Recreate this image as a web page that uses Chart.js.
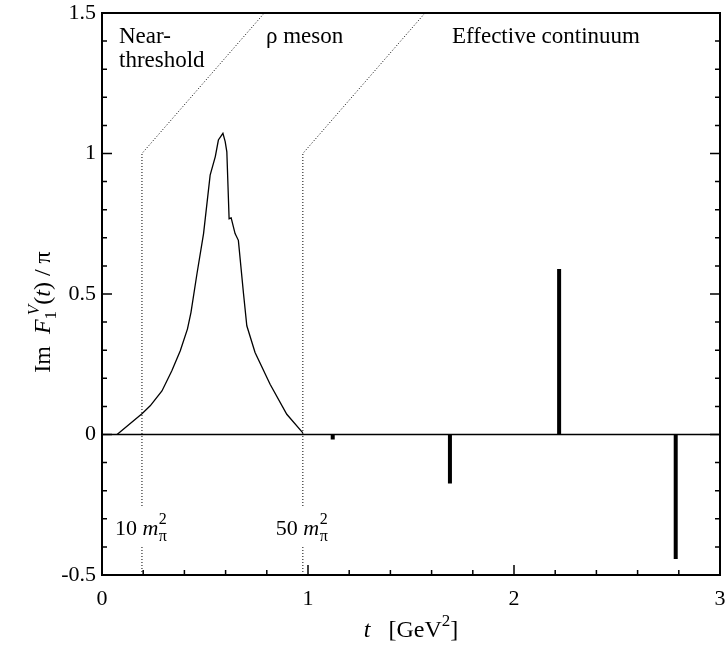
<!DOCTYPE html>
<html>
<head>
<meta charset="utf-8">
<script src="https://cdn.jsdelivr.net/npm/chart.js@4/dist/chart.umd.min.js"></script>
<style>
  body { margin: 0; background: #fff; }
</style>
</head>
<body>
<canvas id="myChart" width="728" height="650"></canvas>
<script>
// spectral function, t in GeV^2
var curveT = [0.073, 0.194, 0.234, 0.291, 0.339, 0.380, 0.415, 0.432, 0.461, 0.493, 0.525, 0.550, 0.565, 0.587, 0.598, 0.606, 0.617, 0.627, 0.646, 0.662, 0.687, 0.703, 0.743, 0.816, 0.897, 0.975];
var curveV = [0, 0.074, 0.102, 0.155, 0.227, 0.298, 0.376, 0.435, 0.572, 0.715, 0.923, 0.989, 1.048, 1.072, 1.042, 1.006, 0.768, 0.771, 0.715, 0.691, 0.501, 0.387, 0.292, 0.179, 0.072, 0.006];

// effective continuum poles
var poleT = [1.12, 1.689, 2.219, 2.785];
var poleV = [-0.018, -0.174, 0.589, -0.443];

// region boundaries: 10 m_pi^2 and 50 m_pi^2, dotted lines bend at y=1 and reach top
var boundT = [0.194, 0.975];
var boundTopT = [0.788, 1.568];
var boundLabels = ['10', '50'];

var xTicks = [0, 1, 2, 3];
var yTicks = [-0.5, 0, 0.5, 1, 1.5];

var serif = '"Liberation Serif", "DejaVu Serif", serif';

var datasets = [];

datasets.push({
  data: curveT.map(function (t, i) { return { x: t, y: curveV[i] }; }),
  borderColor: '#000',
  borderWidth: 1.3,
  pointRadius: 0,
  tension: 0
});

datasets.push({
  data: [{ x: 0, y: 0 }, { x: 3, y: 0 }],
  borderColor: '#000',
  borderWidth: 1.5,
  pointRadius: 0
});

for (var i = 0; i < boundT.length; i++) {
  datasets.push({
    data: [{ x: boundT[i], y: -0.5 }, { x: boundT[i], y: 1 }, { x: boundTopT[i], y: 1.5 }],
    borderColor: '#000',
    borderWidth: 1,
    borderDash: [1, 2],
    pointRadius: 0
  });
}

for (var j = 0; j < poleT.length; j++) {
  datasets.push({
    data: [{ x: poleT[j], y: 0 }, { x: poleT[j], y: poleV[j] }],
    borderColor: '#000',
    borderWidth: 4,
    borderCapStyle: 'butt',
    pointRadius: 0
  });
}

// draws a run of text pieces: [text, style, size, dy, noAdvance]
function drawPieces(c, pieces, x, y) {
  var cx = x;
  pieces.forEach(function (p) {
    c.font = (p[1] || '') + ' ' + p[2] + 'px ' + serif;
    c.fillText(p[0], cx, y + (p[3] || 0));
    if (!p[4]) cx += c.measureText(p[0]).width;
  });
  return cx;
}

function measurePieces(c, pieces) {
  var w = 0;
  pieces.forEach(function (p) {
    c.font = (p[1] || '') + ' ' + p[2] + 'px ' + serif;
    if (!p[4]) w += c.measureText(p[0]).width;
  });
  return w;
}

var framePlugin = {
  id: 'frame',
  afterDatasetsDraw: function (chart) {
    var c = chart.ctx;
    var a = chart.chartArea;
    var xs = chart.scales.x, ys = chart.scales.y;
    c.save();
    c.fillStyle = '#000';
    c.textBaseline = 'alphabetic';

    // labels for the boundaries, white box breaks the dotted line
    for (var i = 0; i < boundT.length; i++) {
      var px = xs.getPixelForValue(boundT[i]);
      var lx = px - 27;
      c.fillStyle = '#fff';
      c.fillRect(lx - 2, 507, 60, 40);
      c.fillStyle = '#000';
      var nx = drawPieces(c, [[boundLabels[i] + ' ', '', 22, 0]], lx, 535);
      nx = drawPieces(c, [['m', 'italic', 22, 0]], nx, 535);
      drawPieces(c, [['\u03c0', '', 16, 6, true], ['2', '', 16, -11]], nx + 0.5, 535);
    }

    // frame
    c.strokeStyle = '#000';
    c.lineWidth = 2;
    c.strokeRect(a.left, a.top, a.right - a.left, a.bottom - a.top);

    // inward ticks
    c.lineWidth = 1.5;
    c.beginPath();
    for (var k = 0; k <= 20; k++) {
      var v = -0.5 + k * 0.1;
      var py = ys.getPixelForValue(v);
      var len = (k % 5 === 0) ? 10 : 5;
      c.moveTo(a.left, py); c.lineTo(a.left + len, py);
      c.moveTo(a.right, py); c.lineTo(a.right - len, py);
    }
    for (var m = 0; m <= 15; m++) {
      var tx = xs.getPixelForValue(m * 0.2);
      var tl = (m % 5 === 0) ? 10 : 5;
      c.moveTo(tx, a.bottom); c.lineTo(tx, a.bottom - tl);
    }
    c.stroke();

    // tick labels
    c.font = '22px ' + serif;
    c.textAlign = 'right';
    c.textBaseline = 'middle';
    yTicks.forEach(function (v) {
      c.fillText(String(v), a.left - 6, ys.getPixelForValue(v));
    });
    c.textAlign = 'center';
    c.textBaseline = 'alphabetic';
    xTicks.forEach(function (v) {
      c.fillText(String(v), xs.getPixelForValue(v), 605);
    });

    // region labels
    c.textAlign = 'left';
    c.font = '23px ' + serif;
    c.fillText('Near-', 119, 43);
    c.fillText('threshold', 119, 67);
    c.fillText('\u03c1 meson', 266, 43);
    c.fillText('Effective continuum', 452, 43);

    // x title
    var mid = (a.left + a.right) / 2;
    var xt = [['t', 'italic', 24, 0], ['   [GeV', '', 24, 0], ['2', '', 17, -11], [']', '', 24, 0]];
    var xw = measurePieces(c, xt);
    drawPieces(c, xt, mid - xw / 2, 637);

    // y title, rotated
    var yt = [['Im  ', '', 24, 0], ['F', 'italic', 24, 0], ['1', '', 17, 6, true], [' V', 'italic', 17, -11], ['(', '', 24, 0], ['t', 'italic', 24, 0], [')', '', 24, 0], [' / \u03c0', '', 24, 0]];
    var yw = measurePieces(c, yt);
    c.translate(50, 312);
    c.rotate(-Math.PI / 2);
    drawPieces(c, yt, -yw / 2, 0);
    c.restore();
  }
};

var ctx = document.getElementById('myChart').getContext('2d');
var myChart = new Chart(ctx, {
  type: 'line',
  data: { datasets: datasets },
  options: {
    responsive: false,
    animation: false,
    layout: { padding: { left: 102, right: 8, top: 13, bottom: 75 } },
    plugins: { legend: { display: false }, tooltip: { enabled: false } },
    scales: {
      x: { type: 'linear', min: 0, max: 3, display: false, offset: false },
      y: { type: 'linear', min: -0.5, max: 1.5, display: false }
    }
  },
  plugins: [framePlugin]
});
</script>
</body>
</html>
